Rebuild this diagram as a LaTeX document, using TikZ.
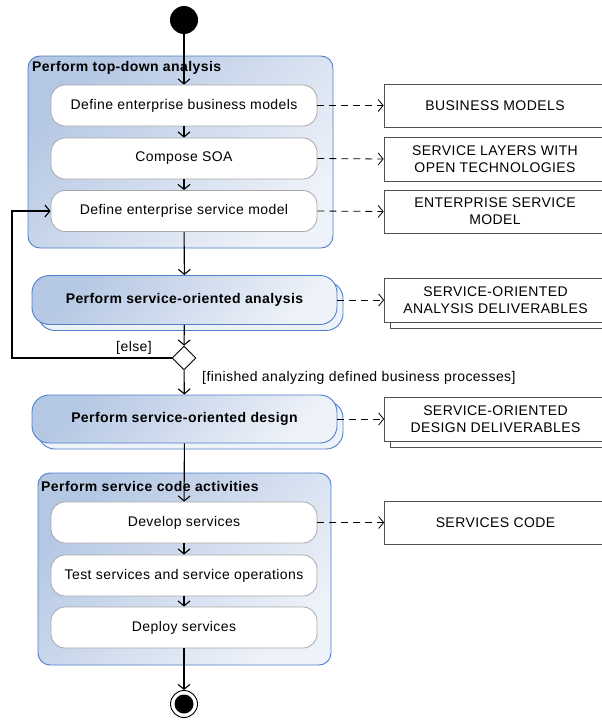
\documentclass[tikz,border=0pt]{standalone}
\usepackage{fontspec}
\setmainfont[LetterSpace=3]{Liberation Sans}
\usetikzlibrary{arrows.meta,shapes.geometric,calc}

\definecolor{grpedge}{HTML}{4F7FCB}
\definecolor{grpdark}{HTML}{B4C7E3}
\definecolor{grplight}{HTML}{EEF2F9}
\definecolor{actedge}{HTML}{A8A8A8}
\definecolor{objedge}{HTML}{505050}

\begin{document}
\begin{tikzpicture}[x=1pt,y=-1pt,
  txt/.style={font=\fontsize{14}{16}\selectfont},
  group/.style={draw=grpedge, line width=0.9pt, rounded corners=12pt,
    left color=grpdark, right color=grplight, shading angle=45,
    inner sep=0pt},
  grouptitle/.style={anchor=west, inner sep=0pt, font=\fontsize{14}{16}\selectfont\bfseries},
  action/.style={draw=actedge, fill=white, line width=0.8pt, rounded corners=14pt,
    minimum width=266pt, minimum height=41pt, inner sep=0pt, txt},
  bigaction/.style={draw=grpedge, line width=0.9pt, rounded corners=17pt,
    left color=grpdark, right color=grplight, shading angle=45,
    minimum width=305pt, minimum height=49pt, inner sep=0pt,
    font=\fontsize{14}{16}\selectfont\bfseries},
  bigshadow/.style={draw=grpedge, line width=0.9pt, rounded corners=17pt,
    fill=grplight, minimum width=305pt, minimum height=49pt, inner sep=0pt},
  objbox/.style={draw=objedge, fill=white, line width=0.7pt,
    minimum width=222pt, minimum height=43pt, inner sep=0pt, align=center,
    font=\fontsize{14}{17}\selectfont},
  objshadow/.style={draw=objedge, fill=white, line width=0.7pt,
    minimum width=222pt, minimum height=44pt, inner sep=0pt},
  flow/.style={line width=1.1pt, -{Straight Barb[length=5pt,width=12pt,line width=1.1pt]}},
  objflow/.style={line width=0.8pt, dash pattern=on 7pt off 5pt,
    -{Straight Barb[length=5pt,width=12pt,line width=0.8pt]}},
  guard/.style={inner sep=0pt, font=\fontsize{14}{16}\selectfont}
]
\useasboundingbox (0,0) rectangle (602,720);

% initial node
\node[circle, fill=black, minimum size=28pt, inner sep=0pt] (start) at (184,20) {};

% top-down analysis group
\node[group, minimum width=305pt, minimum height=192pt] (g1) at (180.5,152) {};
\node[grouptitle] (g1t) at (32,68) {Perform top-down analysis};
\node[action] (a1) at (184,105.5) {Define enterprise business models};
\node[action] (a2) at (184,158.5) {Compose SOA};
\node[action] (a3) at (184,211) {Define enterprise service model};

\node[objbox] (o1) at (495,105.5) {BUSINESS MODELS};
\node[objbox, minimum height=44pt] (o2) at (495,159) {SERVICE LAYERS WITH\\OPEN TECHNOLOGIES};
\node[objbox] (o3) at (495,211.5) {ENTERPRISE SERVICE\\MODEL};

% service-oriented analysis (stacked activity)
\node[bigshadow] (sas) at (190.5,306) {};
\node[bigaction] (sa) at (184.5,300) {Perform service-oriented analysis};
\node[objshadow] (oas) at (501.5,306) {};
\node[objbox, minimum height=44pt] (oa) at (495.5,300) {SERVICE-ORIENTED\\ANALYSIS DELIVERABLES};

% decision
\node[diamond, draw=black, fill=white, line width=0.9pt, minimum width=24pt,
  minimum height=24pt, inner sep=0pt] (dec) at (184,358) {};
\node[guard, anchor=east] (gelse) at (152,348) {[else]};
\node[guard, anchor=west] (gdone) at (202,378) {[finished analyzing defined business processes]};
\coordinate (loop) at (12,358);

% service-oriented design (stacked activity)
\node[bigshadow, minimum height=48pt] (sds) at (190.5,425) {};
\node[bigaction, minimum height=48pt] (sd) at (184.5,419) {Perform service-oriented design};
\node[objshadow] (ods) at (501.5,425) {};
\node[objbox, minimum height=44pt] (od) at (495.5,419) {SERVICE-ORIENTED\\DESIGN DELIVERABLES};

% service code group
\node[group, minimum width=293pt, minimum height=192pt] (g3) at (184.5,569) {};
\node[grouptitle] (g3t) at (41,486) {Perform service code activities};
\node[action] (b1) at (184,522.5) {Develop services};
\node[action] (b2) at (184,575.5) {Test services and service operations};
\node[action] (b3) at (184,627.5) {Deploy services};
\node[objbox] (oc) at (495.5,522.5) {SERVICES CODE};

% final node
\node[circle, draw=black, fill=white, line width=0.9pt, minimum size=27pt, inner sep=0pt] (end) at (184,704) {};
\node[circle, fill=black, minimum size=19pt, inner sep=0pt] (endin) at (184,704) {};

% control flow
\draw[flow] (start) -- (a1);
\draw[flow] (a1) -- (a2);
\draw[flow] (a2) -- (a3);
\draw[flow] (a3) -- (sa);
\draw[flow] (sa) -- (dec);
\draw[flow] (dec.west) -- (loop) |- (a3.west);
\draw[flow] (dec) -- (sd);
\draw[flow] (sd) -- (b1);
\draw[flow] (b1) -- (b2);
\draw[flow] (b2) -- (b3);
\draw[flow] (b3) -- (end);

% object flow
\draw[objflow] (a1.east) -- (o1.west);
\draw[objflow] (a2.east) -- (o2.west);
\draw[objflow] (a3.east) -- (o3.west);
\draw[objflow] (sa.east) -- (oa.west);
\draw[objflow] (sd.east) -- (od.west);
\draw[objflow] (b1.east) -- (oc.west);
\end{tikzpicture}
\end{document}
